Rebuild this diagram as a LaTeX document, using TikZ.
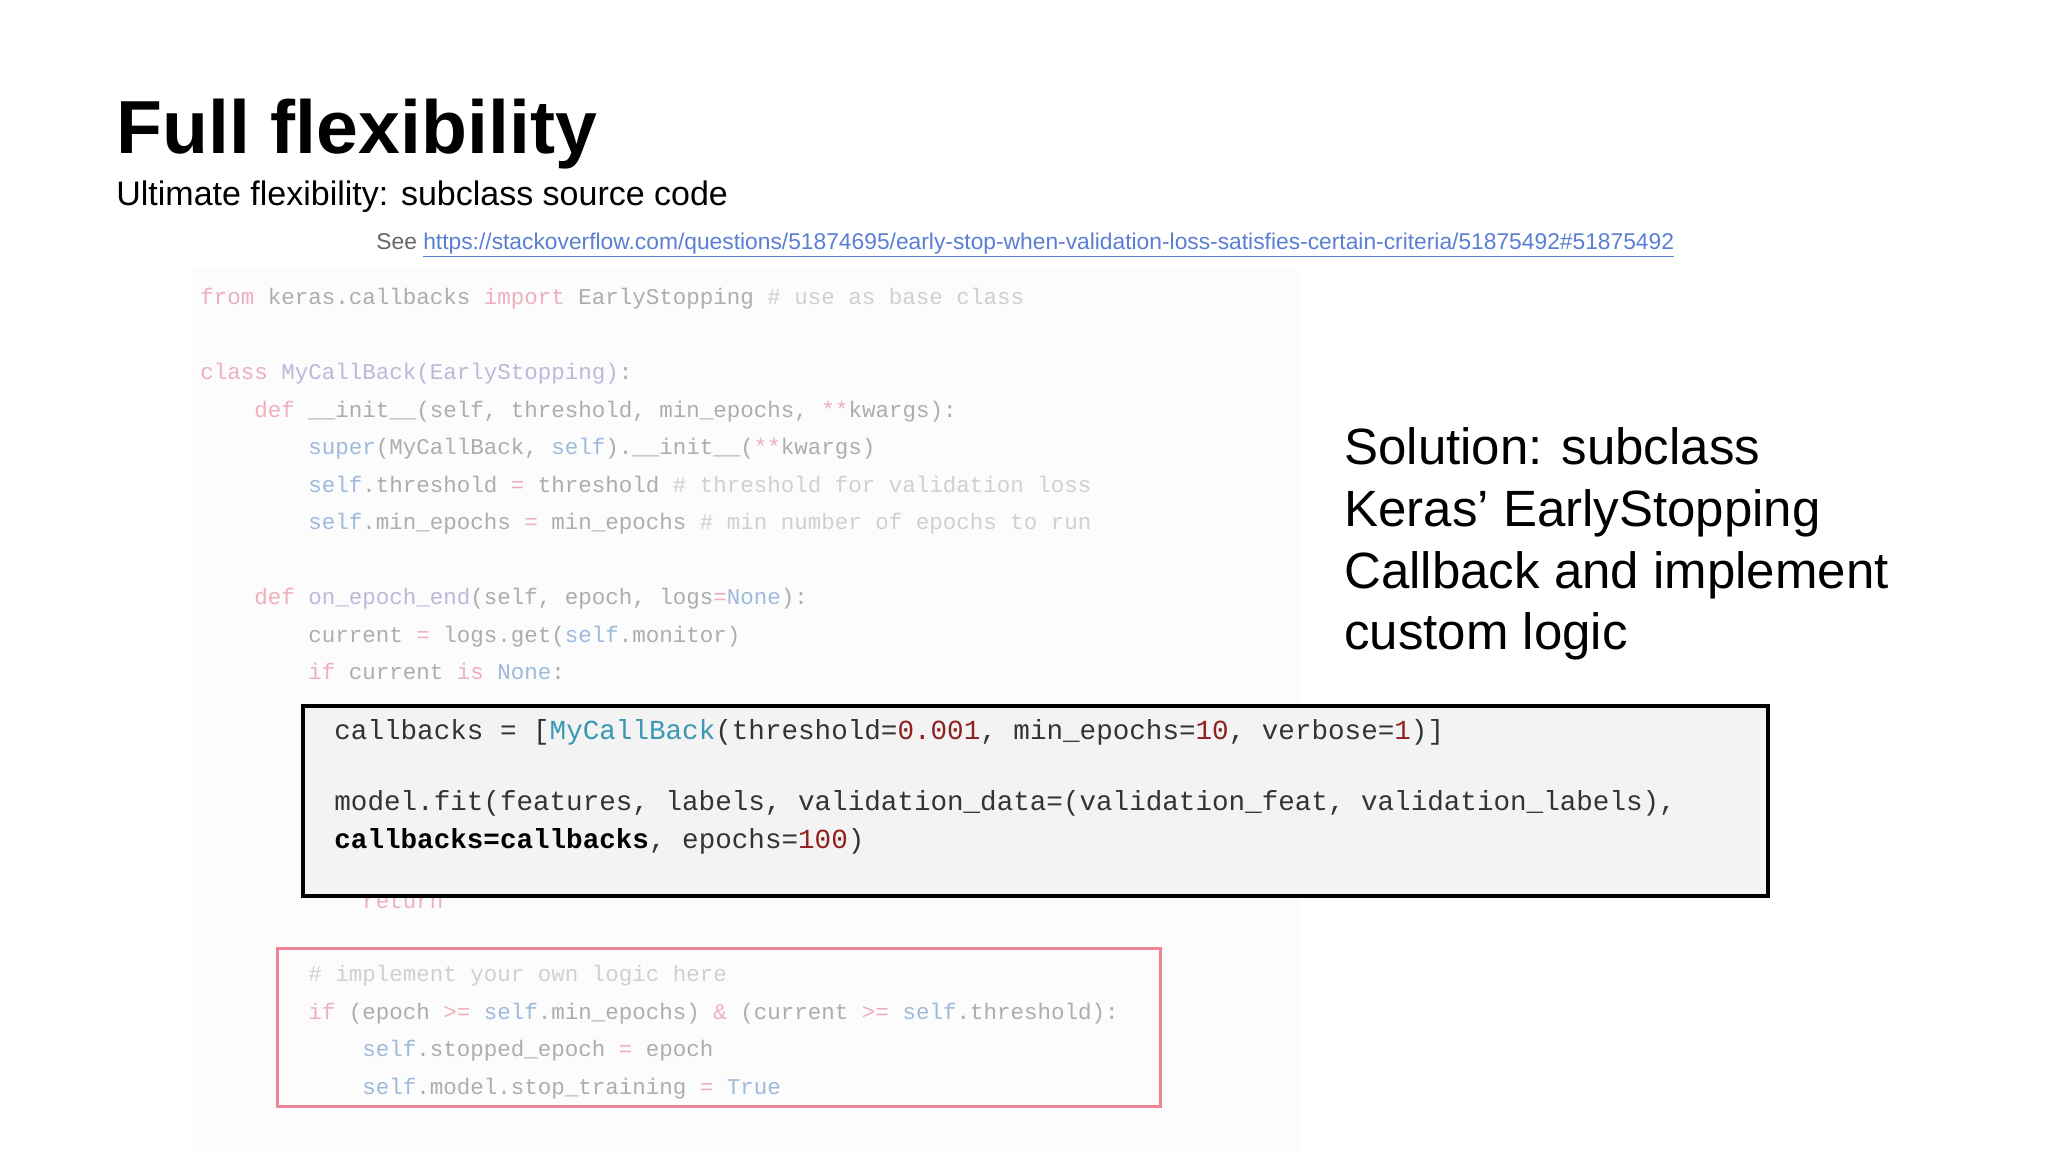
\documentclass[tikz,border=0pt]{standalone}
\usepackage{fontspec}
\setmainfont{Liberation Sans}
\newfontfamily\codefont{Liberation Mono}
\definecolor{kw}{HTML}{EDB0BD}
\definecolor{tx}{HTML}{ADADAD}
\definecolor{bl}{HTML}{9DBADC}
\definecolor{cm}{HTML}{D0D0D0}
\definecolor{pu}{HTML}{C0B6DA}
\definecolor{dk}{HTML}{333333}
\definecolor{nm}{HTML}{8E2020}
\definecolor{tl}{HTML}{3A98B4}
\definecolor{lk}{HTML}{5A7FD2}
\definecolor{boxbg}{HTML}{F3F3F4}
\definecolor{redb}{HTML}{EF8494}
\tikzset{
  codeS/.style={anchor=base west,inner sep=0pt,font=\codefont\fontsize{11.25}{13}\selectfont,text=tx},
  codeL/.style={anchor=base west,inner sep=0pt,font=\codefont\fontsize{13.8}{16}\selectfont,text=dk},
  sol/.style={anchor=base west,inner sep=0pt,font=\fontsize{25.5}{30}\selectfont,text=black}
}
\begin{document}
\begin{tikzpicture}[x=0.5pt,y=-0.5pt]
\useasboundingbox[fill=white] (0,0) rectangle (2048,1152);
\fill[black!1] (193,268) rectangle (1300,1152);
\node[anchor=base west,inner sep=0pt,font=\bfseries\fontsize{37.6}{44}\selectfont] (title) at (116,153) {Full flexibility};
\node[anchor=base west,inner sep=0pt,font=\fontsize{17}{20}\selectfont] (sub) at (116,205) {Ultimate flexibility: subclass source code};
\node[anchor=base west,inner sep=0pt,font=\fontsize{11.4}{14}\selectfont,text=black!60] (see) at (376,249) {See \textcolor{lk}{\underline{https://stackoverflow.com/questions/51874695/early-stop-when-validation-loss-satisfies-certain-criteria/51875492\#51875492}}};
% faint source code
\node[codeS] (c1) at (200,304) {\textcolor{kw}{from} keras.callbacks \textcolor{kw}{import} EarlyStopping \textcolor{cm}{\# use as base class}};
\node[codeS] (c2) at (200,379) {\textcolor{kw}{class} \textcolor{pu}{MyCallBack(EarlyStopping)}:};
\node[codeS] (c3) at (254,417) {\textcolor{kw}{def} \_\_init\_\_(self, threshold, min\_epochs, \textcolor{kw}{**}kwargs):};
\node[codeS] (c4) at (308,454) {\textcolor{bl}{super}(MyCallBack, \textcolor{bl}{self}).\_\_init\_\_(\textcolor{kw}{**}kwargs)};
\node[codeS] (c5) at (308,492) {\textcolor{bl}{self}.threshold \textcolor{kw}{=} threshold \textcolor{cm}{\# threshold for validation loss}};
\node[codeS] (c6) at (308,529) {\textcolor{bl}{self}.min\_epochs \textcolor{kw}{=} min\_epochs \textcolor{cm}{\# min number of epochs to run}};
\node[codeS] (c7) at (254,604) {\textcolor{kw}{def} \textcolor{pu}{on\_epoch\_end}(self, epoch, logs\textcolor{kw}{=}\textcolor{bl}{None}):};
\node[codeS] (c8) at (308,642) {current \textcolor{kw}{=} logs.get(\textcolor{bl}{self}.monitor)};
\node[codeS] (c9) at (308,679) {\textcolor{kw}{if} current \textcolor{kw}{is} \textcolor{bl}{None}:};
\node[codeS,text=kw] (c10) at (362,908) {return};
% highlighted box
\draw[line width=2pt,fill=boxbg] (303,706) rectangle (1768,896);
\node[codeL] (b1) at (334,739) {callbacks = [\textcolor{tl}{MyCallBack}(threshold=\textcolor{nm}{0.001}, min\_epochs=\textcolor{nm}{10}, verbose=\textcolor{nm}{1})]};
\node[codeL] (b2) at (334,810) {model.fit(features, labels, validation\_data=(validation\_feat, validation\_labels),};
\node[codeL] (b3) at (334,848) {\textbf{\textcolor{black}{callbacks=callbacks}}, epochs=\textcolor{nm}{100})};
% red box
\draw[line width=1.5pt,draw=redb] (277,948) rectangle (1160,1106);
\node[codeS,text=cm] (r1) at (308,981) {\# implement your own logic here};
\node[codeS] (r2) at (308,1019) {\textcolor{kw}{if} (epoch \textcolor{kw}{>=} \textcolor{bl}{self}.min\_epochs) \textcolor{kw}{\&} (current \textcolor{kw}{>=} \textcolor{bl}{self}.threshold):};
\node[codeS] (r3) at (362,1056) {\textcolor{bl}{self}.stopped\_epoch \textcolor{kw}{=} epoch};
\node[codeS] (r4) at (362,1094) {\textcolor{bl}{self}.model.stop\_training \textcolor{kw}{=} \textcolor{bl}{True}};
% solution text
\node[sol] (s1) at (1344,464) {Solution: subclass};
\node[sol] (s2) at (1344,526) {Keras’ EarlyStopping};
\node[sol] (s3) at (1344,588) {Callback and implement};
\node[sol] (s4) at (1344,649) {custom logic};
\end{tikzpicture}
\end{document}
